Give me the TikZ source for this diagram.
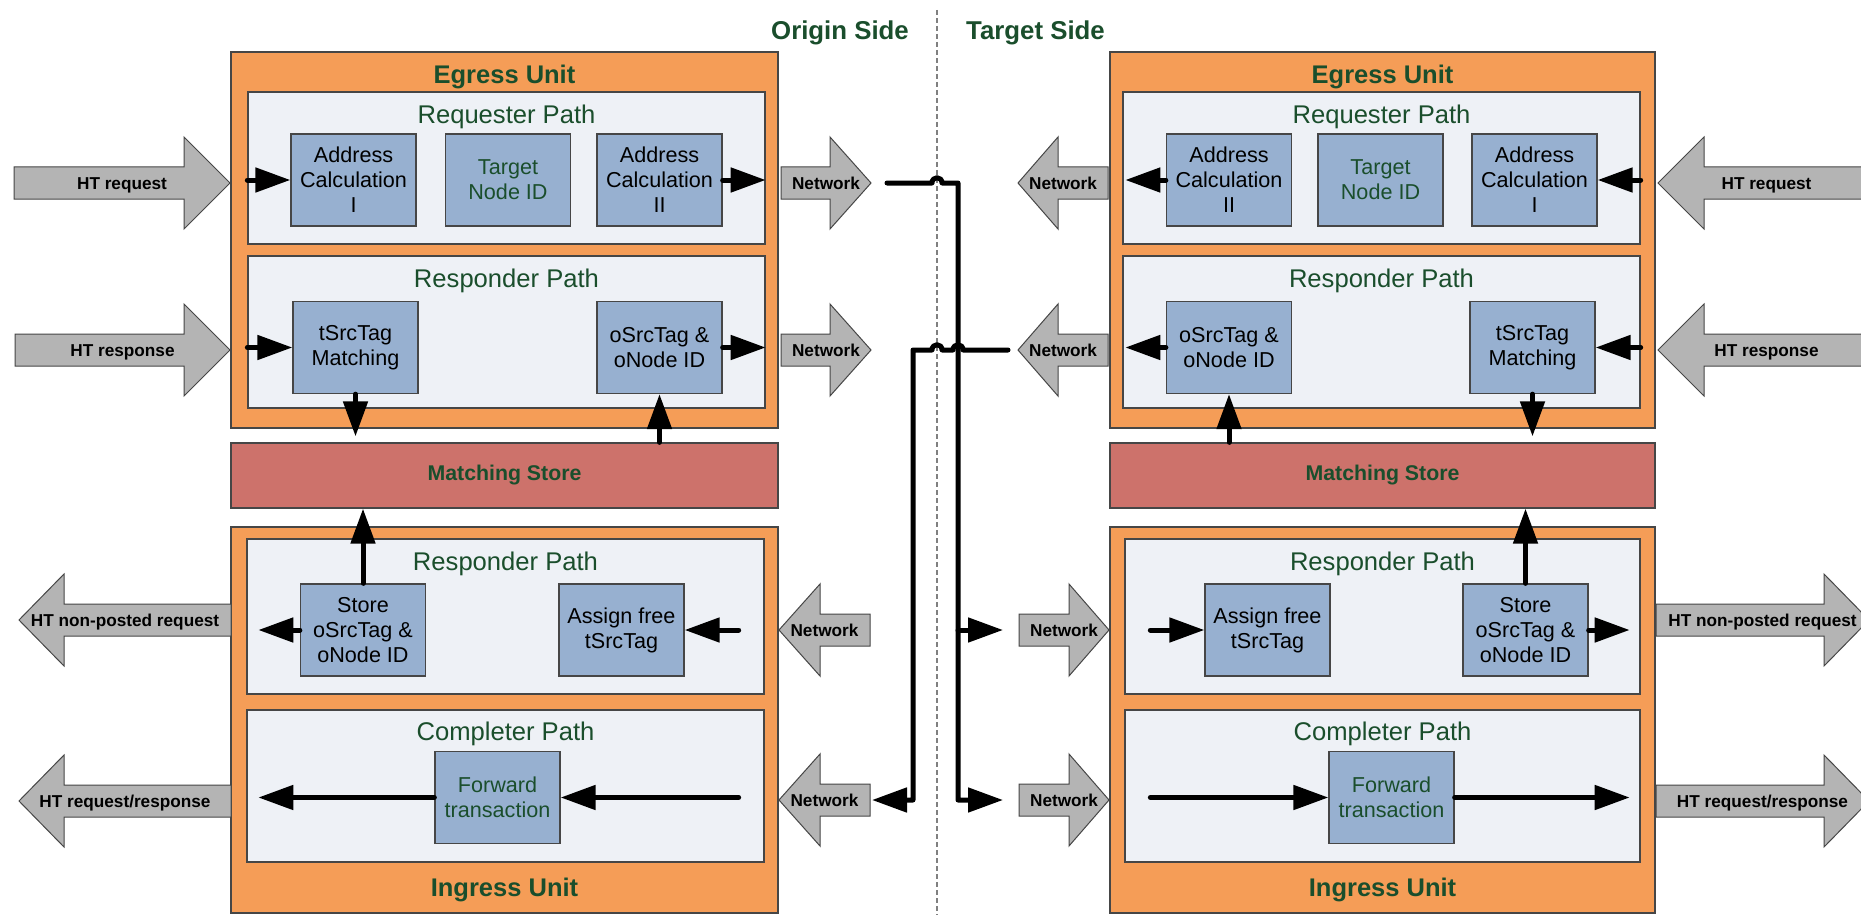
\documentclass[tikz,border=0pt]{standalone}
\usepackage{fontspec}
\setmainfont{Liberation Sans}
\usetikzlibrary{arrows.meta,calc}

\definecolor{unitorange}{RGB}{245,157,87}
\definecolor{storered}{RGB}{205,114,107}
\definecolor{pathbg}{RGB}{238,241,246}
\definecolor{funcblue}{RGB}{151,176,208}
\definecolor{titlegreen}{RGB}{26,78,44}
\definecolor{edgegray}{RGB}{70,70,70}
\definecolor{arrowgray}{RGB}{180,180,180}

% big hollow gray arrow: name, tail x, head-base x, tip x, centre y, head half-height, label
\newcommand{\grayflow}[7]{%
  \draw[grayarrow] (#2,#5-16) -- (#3,#5-16) -- (#3,#5-#6) -- (#4,#5) -- (#3,#5+#6) -- (#3,#5+16) -- (#2,#5+16) -- cycle;
  \coordinate (#1-tail) at (#2,#5);
  \coordinate (#1-tip) at (#4,#5);
  \node[arrowlabel] (#1) at ({(#2+#4)/2},#5+6.2) {#7};
}

\tikzset{
  unitbox/.style={draw=edgegray, fill=unitorange, line width=1.3pt, inner sep=0pt},
  storebox/.style={draw=edgegray, fill=storered, line width=1.3pt, inner sep=0pt,
    text=titlegreen, font=\bfseries\fontsize{21.3}{25}\selectfont},
  pathbox/.style={draw=edgegray, fill=pathbg, line width=1.3pt, inner sep=0pt},
  funcbox/.style={draw=edgegray, fill=funcblue, line width=1.3pt, inner sep=0pt, align=center,
    minimum width=125pt, minimum height=92pt, font=\fontsize{21.6}{25}\selectfont},
  unittitle/.style={text=titlegreen, font=\bfseries\fontsize{25.5}{30}\selectfont, anchor=base, inner sep=0pt},
  pathtitle/.style={text=titlegreen, font=\fontsize{25.6}{30}\selectfont, anchor=base, inner sep=0pt},
  sidetitle/.style={text=titlegreen, font=\bfseries\fontsize{25.8}{30}\selectfont, inner sep=0pt},
  grayarrow/.style={draw=edgegray, fill=arrowgray, line width=1pt, line join=miter},
  arrowlabel/.style={font=\bfseries\fontsize{17.2}{20}\selectfont, anchor=base, inner sep=0pt},
  flow/.style={line width=5pt, line cap=round, line join=round, -{Triangle[length=35pt,width=24pt]}},
  link/.style={line width=5pt, line cap=round, line join=round},
  divider/.style={draw=gray, line width=1.3pt, dash pattern=on 5pt off 3pt},
}

\begin{document}
\begin{tikzpicture}[x=1pt, y=-1pt]
\clip (0,0) rectangle (1861,915);
\fill[white] (0,0) rectangle (1861,915);

% side divider and headings
\draw[divider] (937,10) -- (937,915);
\node[sidetitle, anchor=base east] (originSide) at (909,40) {Origin Side};
\node[sidetitle, anchor=base west] (targetSide) at (966,40) {Target Side};

% ---------------- origin side ----------------
\node[unitbox, minimum width=547pt, minimum height=376pt] (oEgress) at (504.5,240) {};
\node[unittitle] (oEgressTitle) at (504.5,83.3) {Egress Unit};

\node[pathbox, minimum width=517pt, minimum height=152pt] (oReq) at (506.5,168) {};
\node[pathtitle] (oReqTitle) at (506.5,123.3) {Requester Path};
\node[funcbox] (oAC1) at (353.5,180) {Address\\Calculation\\I};
\node[funcbox, text=titlegreen] (oTN) at (508,180) {Target\\Node ID};
\node[funcbox] (oAC2) at (659.5,180) {Address\\Calculation\\II};

\node[pathbox, minimum width=517pt, minimum height=152pt] (oResE) at (506.5,332) {};
\node[pathtitle] (oResETitle) at (506.5,287) {Responder Path};
\node[funcbox] (oTM) at (355.5,347.5) {tSrcTag\\Matching};
\node[funcbox] (oOS) at (659.5,347.5) {oSrcTag \&\\oNode ID};

\node[storebox, minimum width=547pt, minimum height=65pt] (oStore) at (504.5,475.5) {Matching Store};

\node[unitbox, minimum width=547pt, minimum height=386pt] (oIngress) at (504.5,720) {};
\node[unittitle] (oIngressTitle) at (504.5,896.7) {Ingress Unit};

\node[pathbox, minimum width=517pt, minimum height=155pt] (oResI) at (505.5,616.5) {};
\node[pathtitle] (oResITitle) at (505.5,570) {Responder Path};
\node[funcbox] (oSt) at (363,630) {Store\\oSrcTag \&\\oNode ID};
\node[funcbox] (oAs) at (621.5,630) {Assign free\\tSrcTag};

\node[pathbox, minimum width=517pt, minimum height=152pt] (oComp) at (505.5,786) {};
\node[pathtitle] (oCompTitle) at (505.5,740) {Completer Path};
\node[funcbox, text=titlegreen] (oFw) at (497.5,797.5) {Forward\\transaction};

% ---------------- target side ----------------
\node[unitbox, minimum width=545pt, minimum height=376pt] (tEgress) at (1382.5,240) {};
\node[unittitle] (tEgressTitle) at (1382.5,83.3) {Egress Unit};

\node[pathbox, minimum width=517pt, minimum height=152pt] (tReq) at (1381.5,168) {};
\node[pathtitle] (tReqTitle) at (1381.5,123.3) {Requester Path};
\node[funcbox] (tAC2) at (1229,180) {Address\\Calculation\\II};
\node[funcbox, text=titlegreen] (tTN) at (1380.5,180) {Target\\Node ID};
\node[funcbox] (tAC1) at (1534.5,180) {Address\\Calculation\\I};

\node[pathbox, minimum width=517pt, minimum height=152pt] (tResE) at (1381.5,332) {};
\node[pathtitle] (tResETitle) at (1381.5,287) {Responder Path};
\node[funcbox] (tOS) at (1229,347.5) {oSrcTag \&\\oNode ID};
\node[funcbox] (tTM) at (1532.5,347.5) {tSrcTag\\Matching};

\node[storebox, minimum width=545pt, minimum height=65pt] (tStore) at (1382.5,475.5) {Matching Store};

\node[unitbox, minimum width=545pt, minimum height=386pt] (tIngress) at (1382.5,720) {};
\node[unittitle] (tIngressTitle) at (1382.5,896.7) {Ingress Unit};

\node[pathbox, minimum width=515pt, minimum height=155pt] (tResI) at (1382.5,616.5) {};
\node[pathtitle] (tResITitle) at (1382.5,570) {Responder Path};
\node[funcbox] (tAs) at (1267.5,630) {Assign free\\tSrcTag};
\node[funcbox] (tSt) at (1525.5,630) {Store\\oSrcTag \&\\oNode ID};

\node[pathbox, minimum width=515pt, minimum height=152pt] (tComp) at (1382.5,786) {};
\node[pathtitle] (tCompTitle) at (1382.5,740) {Completer Path};
\node[funcbox, text=titlegreen] (tFw) at (1391.5,797.5) {Forward\\transaction};

% ---------------- big gray interface arrows ----------------
\grayflow{oHTreq}{14}{184}{230}{183}{46}{HT request}
\grayflow{oHTres}{15}{184}{230}{350}{46}{HT response}
\grayflow{oNetReq}{781}{830}{871}{183}{46}{Network}
\grayflow{oNetRes}{781}{830}{871}{350}{46}{Network}
\grayflow{oHTnp}{231}{64}{19}{620}{46}{HT non-posted request}
\grayflow{oHTrr}{231}{64}{19}{801}{46}{HT request/response}
\grayflow{oNetIR}{870}{820}{779}{630}{46}{Network}
\grayflow{oNetIC}{870}{820}{779}{800}{46}{Network}

\grayflow{tNetReq}{1108}{1058}{1018}{183}{46}{Network}
\grayflow{tNetRes}{1108}{1058}{1018}{350}{46}{Network}
\grayflow{tHTreq}{1875}{1704}{1658}{183}{46}{HT request}
\grayflow{tHTres}{1875}{1704}{1658}{350}{46}{HT response}
\grayflow{tNetIR}{1019}{1069}{1109}{630}{46}{Network}
\grayflow{tNetIC}{1019}{1069}{1109}{800}{46}{Network}
\grayflow{tHTnp}{1656}{1824}{1869}{620}{46}{HT non-posted request}
\grayflow{tHTrr}{1656}{1824}{1869}{801}{46}{HT request/response}

% ---------------- flows inside the origin units ----------------
\draw[flow] (oReq.west |- oAC1) -- (oAC1.west);
\draw[flow] (oAC2.east) -- (oAC2.east -| oReq.east);
\draw[flow] (oResE.west |- oTM) -- (oTM.west);
\draw[flow] (oOS.east) -- (oOS.east -| oResE.east);
\draw[flow, shorten >=6pt] (oTM.south) -- (oTM.south |- oStore.north);
\draw[flow] (oOS.south |- oStore.north) -- (oOS.south);
\draw[flow] (oSt.north) -- (oSt.north |- oStore.south);
\draw[flow] (oSt.west) -- ($(oResI.west |- oSt)+(12,0)$);
\draw[flow] ($(oResI.east |- oAs)+(-26,0)$) -- (oAs.east);
\draw[flow] ($(oComp.east |- oFw)+(-26,0)$) -- (oFw.east);
\draw[flow] (oFw.west) -- ($(oComp.west |- oFw)+(12,0)$);

% ---------------- flows inside the target units ----------------
\draw[flow] (tAC2.west) -- ($(tReq.west |- tAC2)+(3,0)$);
\draw[flow] (tReq.east |- tAC1) -- (tAC1.east);
\draw[flow] (tOS.west) -- ($(tResE.west |- tOS)+(3,0)$);
\draw[flow] (tResE.east |- tTM) -- (tTM.east);
\draw[flow] (tOS.south |- tStore.north) -- (tOS.south);
\draw[flow, shorten >=6pt] (tTM.south) -- (tTM.south |- tStore.north);
\draw[flow] (tSt.north) -- (tSt.north |- tStore.south);
\draw[flow] ($(tResI.west |- tAs)+(26,0)$) -- (tAs.west);
\draw[flow] (tSt.east) -- ($(tResI.east |- tSt)+(-11,0)$);
\draw[flow] ($(tComp.west |- tFw)+(26,0)$) -- (tFw.west);
\draw[flow] (tFw.east) -- ($(tComp.east |- tFw)+(-11,0)$);

% ---------------- network links between the two sides ----------------
\coordinate (busA) at (958,183);
\coordinate (busB) at (913,350);
% origin requests -> target ingress
\draw[flow] ($(oNetReq-tip)+(16,0)$) -- (932,183) .. controls (932,176) and (942,176) .. (942,183)
  -- (busA) |- ($(tNetIC-tail)+(-16,0)$);
\draw[flow] (busA |- tNetIR-tail) -- ($(tNetIR-tail)+(-16,0)$);
% target responses -> origin ingress
\draw[flow] ($(tNetRes-tip)+(-10,0)$) -- (963,350) .. controls (963,343) and (953,343) .. (953,350)
  -- (942,350) .. controls (942,343) and (932,343) .. (932,350)
  -- (busB) |- ($(oNetIC-tail)+(2,0)$);
\end{tikzpicture}
\end{document}
